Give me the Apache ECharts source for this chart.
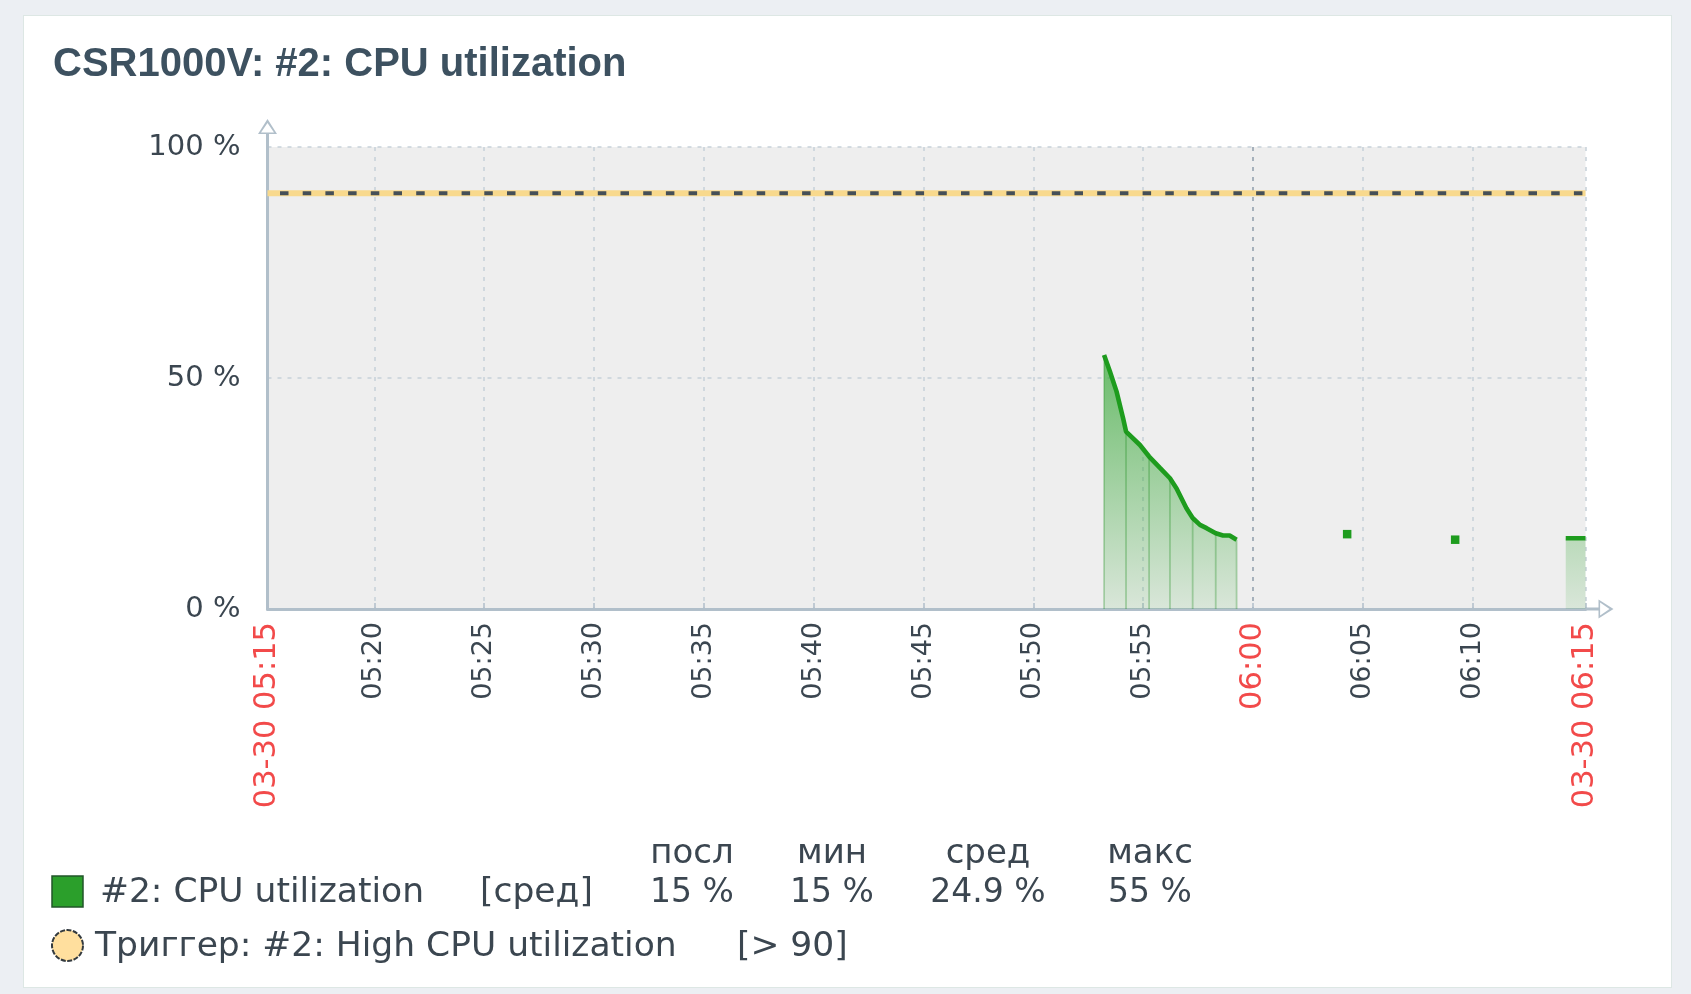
<!DOCTYPE html>
<html>
<head>
<meta charset="utf-8">
<script src="https://cdn.jsdelivr.net/npm/echarts@6/dist/echarts.min.js"></script>
<style>
  html, body { margin: 0; padding: 0; background: #eceff3; }
  #card { position: absolute; left: 23px; top: 15px; width: 1649px; height: 973px; background: #ffffff; border: 1px solid #dde7e4; box-sizing: border-box; }
  #chart { position: absolute; left: 0; top: 0; width: 1691px; height: 994px; }
</style>
</head>
<body>
<div id="card"></div>
<div id="chart"></div>
<script>
// ---------- data ----------
const titleText = 'CSR1000V: #2: CPU utilization';
const rangeStart = '05:15:08';
const rangeEnd = '06:15:08';
const tickTimes = ['05:15:08', '05:20:00', '05:25:00', '05:30:00', '05:35:00', '05:40:00', '05:45:00',
                   '05:50:00', '05:55:00', '06:00:00', '06:05:00', '06:10:00', '06:15:08'];
const tickLabels = ['03-30 05:15', '05:20', '05:25', '05:30', '05:35', '05:40', '05:45',
                    '05:50', '05:55', '06:00', '06:05', '06:10', '03-30 06:15'];
const redTickLabels = ['03-30 05:15', '06:00', '03-30 06:15'];
const majorGridLabel = '06:00';
const yTicks = [0, 50, 100];

const cpuTimes = ['05:53:13', '05:53:29', '05:53:47', '05:54:05', '05:54:13', '05:54:51', '05:55:16',
                  '05:55:45', '05:56:13', '05:56:31', '05:56:58', '05:57:15', '05:57:35', '05:57:53',
                  '05:58:18', '05:58:38', '05:58:56', '05:59:15', '06:01:00', '06:04:17', '06:07:00',
                  '06:09:12', '06:12:00', '06:14:14', '06:15:08'];
const cpuValues = [55.0, 51.4, 47.1, 41.3, 38.4, 35.5, 33.0,
                   30.6, 28.3, 26.1, 21.8, 19.7, 18.2, 17.5,
                   16.4, 15.9, 15.9, 15.0, null, 16.2, null,
                   15.0, null, 15.3, 15.3];
const sampleTimes = ['05:53:13', '05:54:13', '05:55:16', '05:56:13', '05:57:15', '05:58:18', '05:59:15'];
const triggerValue = [90];

const legendName = '#2: CPU utilization';
const legendFunc = '[сред]';
const statHeaders = ['посл', 'мин', 'сред', 'макс'];
const statValues = ['15 %', '15 %', '24.9 %', '55 %'];
const triggerLegend = 'Триггер: #2: High CPU utilization';
const triggerCond = '[> 90]';

// ---------- helpers ----------
function toMin(t) { const p = t.split(':').map(Number); return p[0] * 60 + p[1] + p[2] / 60 - 315; }
const xMin = toMin(rangeStart), xMax = toMin(rangeEnd);
const tickVals = tickTimes.map(toMin);
const cpuData = cpuTimes.map((t, i) => [toMin(t), cpuValues[i] === null ? '-' : cpuValues[i]]);
const isolated = [];
cpuValues.forEach((v, i) => {
  if (v === null) return;
  const prev = i > 0 ? cpuValues[i - 1] : null, next = i < cpuValues.length - 1 ? cpuValues[i + 1] : null;
  if (prev === null && next === null) isolated.push([toMin(cpuTimes[i]), v]);
});
const ridgeData = sampleTimes.map(t => [toMin(t), cpuValues[cpuTimes.indexOf(t)]]);
const trigData = [[xMin, triggerValue[0]], [xMax, triggerValue[0]]];

const FONT = 'DejaVu Sans';
const TXT = '#3b4650';
const AXIS = '#b1bfca';
const GRID = '#c6d1d9';
const GREEN = '#1e9c1e';
const arrowPath = 'path://M95 0 L190 150 L0 150 Z M95 40 L30 134 L160 134 Z M80 150 L110 150 L110 280 L80 280 Z';
const splitColors = tickLabels.map(l => l === majorGridLabel ? '#8f9daa' : GRID);

function labelIndex(v) {
  let best = 0, d = Infinity;
  tickVals.forEach((tv, i) => { if (Math.abs(tv - v) < d) { d = Math.abs(tv - v); best = i; } });
  return best;
}

// legend layout
const statX = [692, 832, 988, 1150];
const hdrY = 854, row1Y = 893, row2Y = 947;
const nameFont = '34.5px "' + FONT + '"';
const valFont = '33px "' + FONT + '"';
const graphics = [];
statHeaders.forEach((h, i) => graphics.push({ type: 'text', x: statX[i], y: hdrY, style: { text: h, font: '34px "' + FONT + '"', fill: TXT, textAlign: 'center', textVerticalAlign: 'middle' } }));
statValues.forEach((h, i) => graphics.push({ type: 'text', x: statX[i], y: row1Y, style: { text: h, font: valFont, fill: TXT, textAlign: 'center', textVerticalAlign: 'middle' } }));
graphics.push({ type: 'rect', shape: { x: 52, y: 876, width: 31, height: 31 }, style: { fill: '#2b9f2b', stroke: '#22552a', lineWidth: 1.5 } });
graphics.push({ type: 'text', x: 100, y: row1Y, style: { text: legendName, font: nameFont, fill: TXT, textVerticalAlign: 'middle' } });
graphics.push({ type: 'text', x: 480, y: row1Y, style: { text: legendFunc, font: nameFont, fill: TXT, textVerticalAlign: 'middle' } });
graphics.push({ type: 'circle', shape: { cx: 67.5, cy: 945.5, r: 15.5 }, style: { fill: '#ffdf9e', stroke: '#333a3f', lineWidth: 2, lineDash: [5, 1.5] } });
graphics.push({ type: 'text', x: 95, y: row2Y, style: { text: triggerLegend, font: nameFont, fill: TXT, textVerticalAlign: 'middle' } });
graphics.push({ type: 'text', x: 737, y: row2Y, style: { text: triggerCond, font: nameFont, fill: TXT, textVerticalAlign: 'middle' } });

const chart = echarts.init(document.getElementById('chart'), null, { renderer: 'canvas' });
chart.setOption({
  animation: false,
  backgroundColor: 'transparent',
  title: {
    text: titleText, left: 53, top: 45, padding: 0,
    textStyle: { fontFamily: 'Liberation Sans', fontWeight: 'bold', fontSize: 40, color: '#3d5160' }
  },
  grid: { left: 267.5, top: 147, width: 1318, height: 462, show: true, backgroundColor: '#eeeeee', borderWidth: 0, containLabel: false },
  xAxis: {
    type: 'value', min: xMin, max: xMax,
    axisLine: { show: true, onZero: false, lineStyle: { color: AXIS, width: 3 }, symbol: ['none', arrowPath], symbolSize: [19, 28], symbolOffset: [0, 14] },
    axisTick: { show: true, inside: true, length: 6, customValues: tickVals, lineStyle: { color: AXIS, width: 1.5 } },
    splitLine: { show: true, lineStyle: { color: splitColors, width: 1.5, type: [4, 6] } },
    axisLabel: {
      show: true, rotate: 90, margin: 13, customValues: tickVals, hideOverlap: false,
      showMinLabel: true, showMaxLabel: true,
      formatter: v => { const l = tickLabels[labelIndex(v)]; return redTickLabels.includes(l) ? '{r|' + l + '}' : '{k|' + l + '}'; },
      rich: {
        r: { color: '#f24a4a', fontSize: 30.5, fontFamily: FONT },
        k: { color: TXT, fontSize: 27, fontFamily: FONT }
      }
    }
  },
  yAxis: {
    type: 'value', min: yTicks[0], max: yTicks[yTicks.length - 1], interval: yTicks[1] - yTicks[0],
    axisLine: { show: true, lineStyle: { color: AXIS, width: 3 }, symbol: ['none', arrowPath], symbolSize: [19, 28], symbolOffset: [0, 14] },
    axisTick: { show: false },
    splitLine: { show: true, lineStyle: { color: GRID, width: 1.5, type: [4, 6] } },
    axisLabel: { formatter: '{value} %', fontFamily: FONT, fontSize: 29, color: TXT, margin: 27 }
  },
  series: [
    { type: 'line', data: trigData, symbol: 'none', silent: true, lineStyle: { color: '#f8d98d', width: 6, cap: 'butt' }, z: 3 },
    { type: 'line', data: trigData, symbol: 'none', silent: true, lineStyle: { color: '#454f57', width: 4, type: [8.5, 14.2], dashOffset: 10.2, cap: 'butt' }, z: 4 },
    { type: 'bar', data: ridgeData, barWidth: 1.8, silent: true, itemStyle: { color: 'rgba(25,140,25,0.3)' }, z: 6 },
    {
      type: 'line', name: legendName, data: cpuData, showSymbol: false, symbol: 'none', connectNulls: false,
      lineStyle: { color: GREEN, width: 4.6 },
      areaStyle: {
        color: new echarts.graphic.LinearGradient(0, 0, 0, 1, [
          { offset: 0, color: 'rgba(28,158,28,0.9)' },
          { offset: 1, color: 'rgba(28,158,28,0.14)' }
        ])
      },
      z: 5
    },
    { type: 'scatter', data: isolated, symbol: 'rect', symbolSize: 8.5, itemStyle: { color: GREEN, opacity: 1 }, z: 7 }
  ],
  graphic: graphics
});
</script>
</body>
</html>
